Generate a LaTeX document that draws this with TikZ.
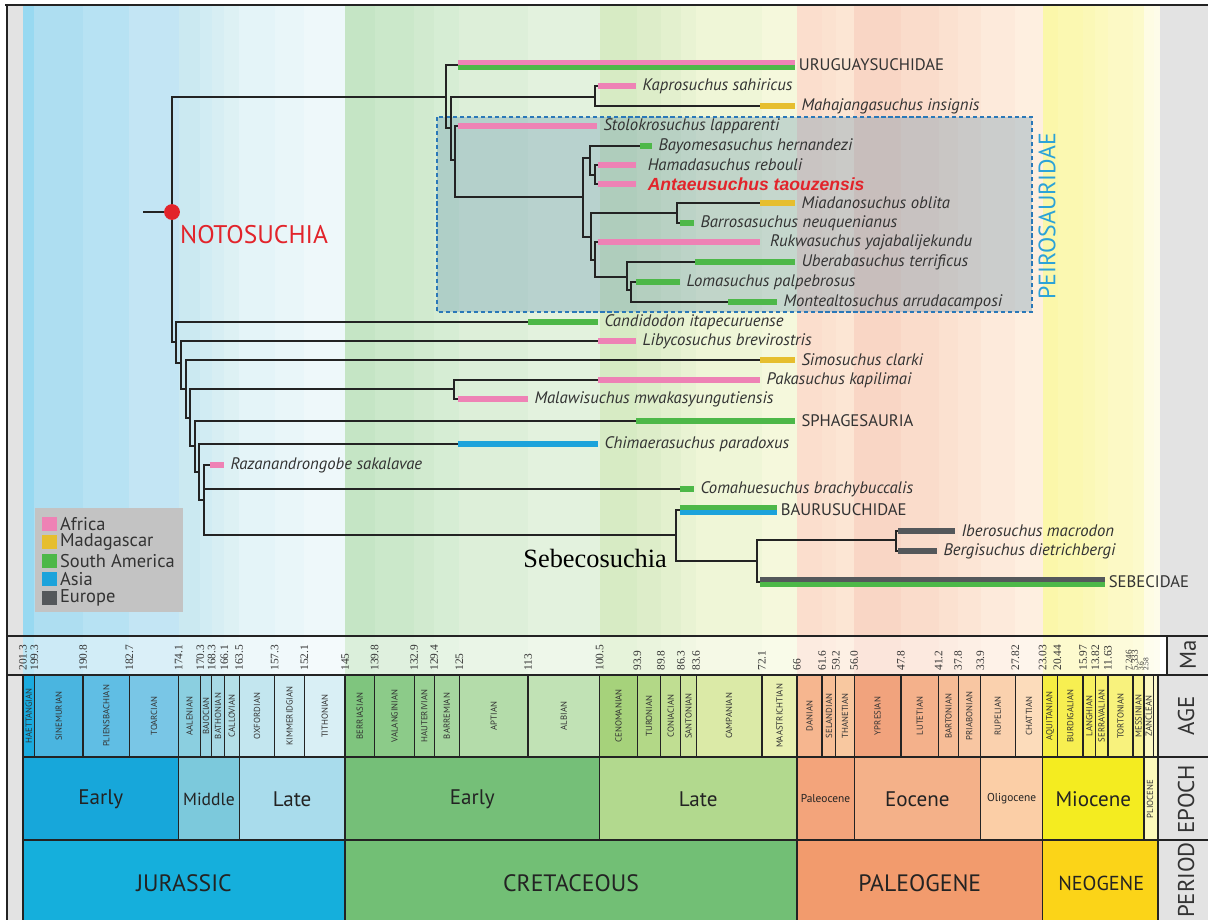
\documentclass[tikz,border=0pt]{standalone}
\usepackage{fontspec}
\setmainfont{PT Sans}
\newfontfamily\serifnum{Liberation Serif}
\newfontfamily\arialf{Liberation Sans}
\usetikzlibrary{positioning}

\definecolor{africa}{HTML}{EE82B5}
\definecolor{madagascar}{HTML}{E6BE2E}
\definecolor{samerica}{HTML}{4DB848}
\definecolor{asia}{HTML}{1CA3DB}
\definecolor{europe}{HTML}{54585B}
\definecolor{notored}{HTML}{E2242B}
\definecolor{peiroblue}{HTML}{2BA2D8}
\definecolor{boxfill}{HTML}{4A82A8}
\definecolor{boxline}{HTML}{2A78B8}
\definecolor{grid}{HTML}{232323}
\definecolor{sidegray}{HTML}{E3E3E3}
\definecolor{legendgray}{HTML}{C3C3C3}
\definecolor{taxgray}{HTML}{333333}

\tikzset{
  branch/.style={line width=1.1pt, draw=grid},
  rng/.style={line width=3.4pt},
  rngtwo/.style={line width=2.7pt},
  taxon/.style={anchor=west, inner sep=2pt, text=taxgray,
    font=\fontsize{9.5}{10}\selectfont\itshape},
  clade/.style={anchor=west, inner sep=2pt, text=taxgray,
    font=\fontsize{9.5}{10}\selectfont},
  cell/.style={draw=grid, line width=0.7pt},
  stagelab/.style={rotate=90, inner sep=0pt, text=taxgray,
    font=\fontsize{5}{5}\selectfont},
  malab/.style={rotate=90, anchor=west, inner sep=0pt, text=taxgray,
    font=\serifnum\fontsize{6.5}{7}\selectfont},
  sidelab/.style={rotate=90, text=taxgray, font=\fontsize{13}{13}\selectfont},
  legendlab/.style={anchor=west, inner sep=1pt, text=taxgray,
    font=\fontsize{10.5}{11}\selectfont}
}

\begin{document}
\begin{tikzpicture}[x=0.02cm, y=-0.02cm]
\useasboundingbox (0,0) rectangle (1208,920);
\fill[white] (0,0) rectangle (1208,920);
\fill[sidegray] (7,5) rectangle (23,920);
\fill[sidegray] (1158,5) rectangle (1208,636);

% stages: background bands, Ma row and AGE row
\foreach \a/\b/\c/\n [count=\i] in {
  201.3/199.3/1AABDF/HAETTANGIAN, 199.3/190.8/4AB5E0/SINEMURIAN,
  190.8/182.7/60BEE4/PLIENSBACHIAN, 182.7/174.1/79C6E6/TOARCIAN,
  174.1/170.3/8BCFE0/AALENIAN, 170.3/168.3/99D4E3/BAJOCIAN,
  168.3/166.1/A7D9E5/BATHONIAN, 166.1/163.5/B4DFE7/CALLOVIAN,
  163.5/157.3/C3E6EF/OXFORDIAN, 157.3/152.1/CDEAF1/KIMMERIDGIAN,
  152.1/145/D9EFF5/TITHONIAN,
  145/139.8/7FC57E/BERRIASIAN, 139.8/132.9/8CCB89/VALANGINIAN,
  132.9/129.4/99D194/HAUTERIVIAN, 129.4/125/A5D69F/BARREMIAN,
  125/113/B4DCAA/APTIAN, 113/100.5/C1E2B5/ALBIAN,
  100.5/93.9/A6D27B/CENOMANIAN, 93.9/89.8/B3D887/TURONIAN,
  89.8/86.3/C0DE92/CONIACIAN, 86.3/83.6/CDE49D/SANTONIAN,
  83.6/72.1/DBEAA7/CAMPANIAN, 72.1/66/E8F0B1/MAASTRICHTIAN,
  66/61.6/F6B68F/DANIAN, 61.6/59.2/F7BF97/SELANDIAN,
  59.2/56/F8C8A0/THANETIAN, 56/47.8/F1A37D/YPRESIAN,
  47.8/41.2/F4B18B/LUTETIAN, 41.2/37.8/F6BC96/BARTONIAN,
  37.8/33.9/F8C6A2/PRIABONIAN, 33.9/27.82/FAD1AE/RUPELIAN,
  27.82/23.03/FCDCBB/CHATTIAN,
  23.03/20.44/F6EE42/AQUITANIAN, 20.44/15.97/F7EF51/BURDIGALIAN,
  15.97/13.82/F7F060/LANGHIAN, 13.82/11.63/F8F16E/SERRAVALIAN,
  11.63/7.246/F8F27D/TORTONIAN, 7.246/5.333/F9F38C/MESSINIAN,
  5.333/3.6/FCF8C4/ZANCLEAN, 3.6/2.58/FDF9CE/{}}{
  \pgfmathsetmacro{\xa}{23+(201.3-\a)*5.72}
  \pgfmathsetmacro{\xb}{23+(201.3-\b)*5.72}
  \definecolor{stc}{HTML}{\c}
  \fill[stc!45!white] (\xa,5) rectangle (\xb,636);
  \fill[stc!28!white] (\xa,636) rectangle (\xb,675);
  \filldraw[fill=stc, cell] (\xa,675) rectangle (\xb,757);
  \node[stagelab] (stage\i) at ({(\xa+\xb)/2},716) {\n};
}

% epochs
\foreach \a/\b/\c/\n/\s [count=\i] in {
  201.3/174.1/17A7DA/Early/12, 174.1/163.5/7CC9DC/Middle/10,
  163.5/145/A9DCEC/Late/12, 145/100.5/75BF78/Early/12,
  100.5/66/B2D98E/Late/12, 66/56/F3A47B/Paleocene/6.5,
  56/33.9/F4B189/Eocene/12, 33.9/23.03/FBCEA6/Oligocene/6.5,
  23.03/5.333/F4EC20/Miocene/12, 5.333/2.58/FCF9BB/{}/12}{
  \pgfmathsetmacro{\xa}{23+(201.3-\a)*5.72}
  \pgfmathsetmacro{\xb}{23+(201.3-\b)*5.72}
  \definecolor{epc}{HTML}{\c}
  \filldraw[fill=epc, cell] (\xa,757) rectangle (\xb,840);
  \node[text=grid, font=\fontsize{\s}{\s}\selectfont] (epoch\i)
    at ({(\xa+\xb)/2},799) {\n};
}
\node[stagelab] (plio) at (1150,799) {PLIOCENE};

% periods
\foreach \a/\b/\c/\n/\s [count=\i] in {
  201.3/145/15AFDC/JURASSIC/13.5, 145/66/72BF75/CRETACEOUS/13.5,
  66/23.03/F29B6D/PALEOGENE/13.5, 23.03/2.58/FBD418/NEOGENE/11.5}{
  \pgfmathsetmacro{\xa}{23+(201.3-\a)*5.72}
  \pgfmathsetmacro{\xb}{23+(201.3-\b)*5.72}
  \definecolor{prc}{HTML}{\c}
  \filldraw[fill=prc, cell] (\xa,840) rectangle (\xb,925);
  \node[text=grid, font=\fontsize{\s}{\s}\selectfont] (period\i)
    at ({(\xa+\xb)/2},883) {\n};
}

% Ma numbers
\foreach \t [count=\i] in {201.3,199.3,190.8,182.7,174.1,170.3,168.3,166.1,
  163.5,157.3,152.1,145,139.8,132.9,129.4,125,113,100.5,93.9,89.8,86.3,83.6,
  72.1,66,61.6,59.2,56.0,47.8,41.2,37.8,33.9,27.82,23.03,20.44,15.97,13.82,
  11.63}{
  \pgfmathsetmacro{\xt}{23+(201.3-\t)*5.72}
  \node[malab] (ma\i) at (\xt,671) {\t};
}
\node[malab, font=\serifnum\fontsize{5.2}{6}\selectfont] (maa) at (1129,671) {7.246};
\node[malab, font=\serifnum\fontsize{5.2}{6}\selectfont] (mab) at (1135,671) {5.333};
\node[malab, font=\serifnum\fontsize{4.2}{5}\selectfont] (mac) at (1141,671) {3.6};
\node[malab, font=\serifnum\fontsize{4.2}{5}\selectfont] (mad) at (1146,671) {2.58};

% right column
\filldraw[fill=sidegray, cell] (1167,636) rectangle (1212,675);
\filldraw[fill=sidegray, cell] (1158,675) rectangle (1212,757);
\filldraw[fill=sidegray, cell] (1158,757) rectangle (1212,840);
\filldraw[fill=sidegray, cell] (1158,840) rectangle (1212,925);
\node[sidelab] (malabel) at (1188,655) {Ma};
\node[sidelab] (agelabel) at (1186,716) {AGE};
\node[sidelab] (epochlabel) at (1186,799) {EPOCH};
\node[sidelab] (periodlabel) at (1186,880) {PERIOD};
\draw[cell] (7,636) -- (1208,636);
\draw[cell] (7,675) -- (1208,675);

% Peirosauridae box
\draw[draw=boxline, line width=0.9pt, dash pattern=on 2.4pt off 1.6pt,
  fill=boxfill, fill opacity=0.28] (437,117) rectangle (1032,312);
\node[rotate=90, text=peiroblue, font=\fontsize{13.5}{14}\selectfont]
  (peirolab) at (1047,216) {PEIROSAURIDAE};

% tree nodes
\coordinate (root) at (143,212);
\coordinate (n0) at (172,212);
\coordinate (n1) at (176,342);
\coordinate (n2) at (181,363);
\coordinate (n3) at (186,389);
\coordinate (n4) at (190,418);
\coordinate (n5) at (195,446);
\coordinate (n6) at (199,472);
\coordinate (n7) at (204,500);
\coordinate (nA) at (446,97);
\coordinate (nB) at (451,128);
\coordinate (nkap) at (595,97);
\coordinate (nC) at (455,160);
\coordinate (ncore) at (583,197);
\coordinate (nbayo) at (590,158);
\coordinate (nhama) at (595,175);
\coordinate (nD) at (591,237);
\coordinate (nmiad) at (677,213);
\coordinate (nE) at (595,260);
\coordinate (nF) at (627,277);
\coordinate (nG) at (631,290);
\coordinate (npaka) at (454,389);
\coordinate (nsebeco) at (676,535);
\coordinate (nseb) at (757,561);
\coordinate (nibero) at (896,540);
% tips
\coordinate (uru) at (458,65);
\coordinate (kapro) at (598,86);
\coordinate (mahaj) at (760,106);
\coordinate (stolo) at (458,126);
\coordinate (bayo) at (640,146);
\coordinate (hama) at (598,165);
\coordinate (antae) at (598,184);
\coordinate (miad) at (760,203);
\coordinate (barro) at (680,223);
\coordinate (rukwa) at (598,242);
\coordinate (uber) at (695,262);
\coordinate (loma) at (636,282);
\coordinate (monte) at (728,302);
\coordinate (cand) at (528,322);
\coordinate (libyco) at (598,341);
\coordinate (simo) at (760,360);
\coordinate (paka) at (598,380);
\coordinate (malawi) at (458,399);
\coordinate (sphag) at (636,421);
\coordinate (chim) at (458,444);
\coordinate (razana) at (210,465);
\coordinate (comahue) at (680,489);
\coordinate (bauru) at (680,510);
\coordinate (ibero) at (898,531);
\coordinate (bergi) at (898,551);
\coordinate (sebecid) at (760,582);

\draw[branch] (root) -- (n0);
\foreach \p/\c in {n0/nA, n0/n1, nA/uru, nA/nB, nB/nkap, nB/nC,
  nkap/kapro, nkap/mahaj, nC/stolo, nC/ncore, ncore/nbayo, ncore/nD,
  nbayo/bayo, nbayo/nhama, nhama/hama, nhama/antae, nD/nmiad, nD/nE,
  nmiad/miad, nmiad/barro, nE/rukwa, nE/nF, nF/uber, nF/nG, nG/loma,
  nG/monte, n1/cand, n1/n2, n2/libyco, n2/n3, n3/simo, n3/n4,
  n4/npaka, n4/n5, npaka/paka, npaka/malawi, n5/sphag, n5/n6,
  n6/chim, n6/n7, n7/razana, n7/comahue, n7/nsebeco, nsebeco/bauru,
  nsebeco/nseb, nseb/nibero, nseb/sebecid, nibero/ibero, nibero/bergi}
  \draw[branch] (\p) |- (\c);

% ranges and names
\draw[rngtwo, africa] (uru) ++(0,-2.6) -- ++(337,0);
\draw[rngtwo, samerica] (uru) ++(0,2.6) -- ++(337,0);
\path (uru) ++(337,0) node[clade] (urulab) {URUGUAYSUCHIDAE};
\draw[rng, africa] (kapro) -- ++(38,0) node[taxon] (kaprolab) {Kaprosuchus sahiricus};
\draw[rng, madagascar] (mahaj) -- ++(35,0) node[taxon] (mahajlab) {Mahajangasuchus insignis};
\draw[rng, africa] (stolo) -- ++(139,0) node[taxon] (stololab) {Stolokrosuchus lapparenti};
\draw[rng, samerica] (bayo) -- ++(12,0) node[taxon] (bayolab) {Bayomesasuchus hernandezi};
\draw[rng, africa] (hama) -- ++(38,0) node[taxon, xshift=3pt] (hamalab) {Hamadasuchus rebouli};
\draw[rng, africa] (antae) -- ++(38,0) node[taxon, xshift=3pt, text=notored,
  font=\arialf\bfseries\itshape\fontsize{10}{10}\selectfont] (antaelab) {Antaeusuchus taouzensis};
\draw[rng, madagascar] (miad) -- ++(35,0) node[taxon] (miadlab) {Miadanosuchus oblita};
\draw[rng, samerica] (barro) -- ++(14,0) node[taxon] (barrolab) {Barrosasuchus neuquenianus};
\draw[rng, africa] (rukwa) -- ++(162,0) node[taxon, xshift=2pt] (rukwalab) {Rukwasuchus yajabalijekundu};
\draw[rng, samerica] (uber) -- ++(100,0) node[taxon] (uberlab) {Uberabasuchus terrificus};
\draw[rng, samerica] (loma) -- ++(44,0) node[taxon] (lomalab) {Lomasuchus palpebrosus};
\draw[rng, samerica] (monte) -- ++(49,0) node[taxon] (montelab) {Montealtosuchus arrudacamposi};
\draw[rng, samerica] (cand) -- ++(70,0) node[taxon] (candlab) {Candidodon itapecuruense};
\draw[rng, africa] (libyco) -- ++(38,0) node[taxon] (libycolab) {Libycosuchus brevirostris};
\draw[rng, madagascar] (simo) -- ++(35,0) node[taxon] (simolab) {Simosuchus clarki};
\draw[rng, africa] (paka) -- ++(162,0) node[taxon] (pakalab) {Pakasuchus kapilimai};
\draw[rng, africa] (malawi) -- ++(70,0) node[taxon] (malawilab) {Malawisuchus mwakasyungutiensis};
\draw[rng, samerica] (sphag) -- ++(159,0) node[clade] (sphaglab) {SPHAGESAURIA};
\draw[rng, asia] (chim) -- ++(140,0) node[taxon] (chimlab) {Chimaerasuchus paradoxus};
\draw[rng, africa] (razana) -- ++(14,0) node[taxon] (razanalab) {Razanandrongobe sakalavae};
\draw[rng, samerica] (comahue) -- ++(14,0) node[taxon] (comahuelab) {Comahuesuchus brachybuccalis};
\draw[rngtwo, samerica] (bauru) ++(0,-2.6) -- ++(97,0);
\draw[rngtwo, asia] (bauru) ++(0,2.6) -- ++(97,0);
\path (bauru) ++(97,0) node[clade] (baurulab) {BAURUSUCHIDAE};
\draw[rng, europe] (ibero) -- ++(57,0) node[taxon] (iberolab) {Iberosuchus macrodon};
\draw[rng, europe] (bergi) -- ++(39,0) node[taxon] (bergilab) {Bergisuchus dietrichbergi};
\draw[rngtwo, europe] (sebecid) ++(0,-2.6) -- ++(345,0);
\draw[rngtwo, samerica] (sebecid) ++(0,2.6) -- ++(345,0);
\path (sebecid) ++(345,0) node[clade] (sebecidlab) {SEBECIDAE};

% clade names
\node[anchor=east, inner sep=1pt, font=\serifnum\fontsize{15}{15}\selectfont]
  (sebecolab) at (669,558) {Sebecosuchia};
\node[circle, fill=notored, minimum size=9pt, inner sep=0pt] (rootdot) at (n0) {};
\node[anchor=west, inner sep=1pt, text=notored, font=\fontsize{14.5}{15}\selectfont]
  (notolab) at (178,235) {NOTOSUCHIA};

% legend
\fill[legendgray] (35,508) rectangle (183,612);
\foreach \c/\n [count=\i] in {africa/Africa, madagascar/Madagascar,
  samerica/South America, asia/Asia, europe/Europe}{
  \fill[\c] (42,{517+18.4*(\i-1)}) rectangle ++(15,14);
  \node[legendlab] (leg\i) at (58,{524+18.4*(\i-1)}) {\n};
}

% frame
\draw[line width=1.7pt, grid] (5,5) -- (1208,5);
\draw[line width=1.2pt, grid] (7,4) -- (7,920);
\end{tikzpicture}
\end{document}
